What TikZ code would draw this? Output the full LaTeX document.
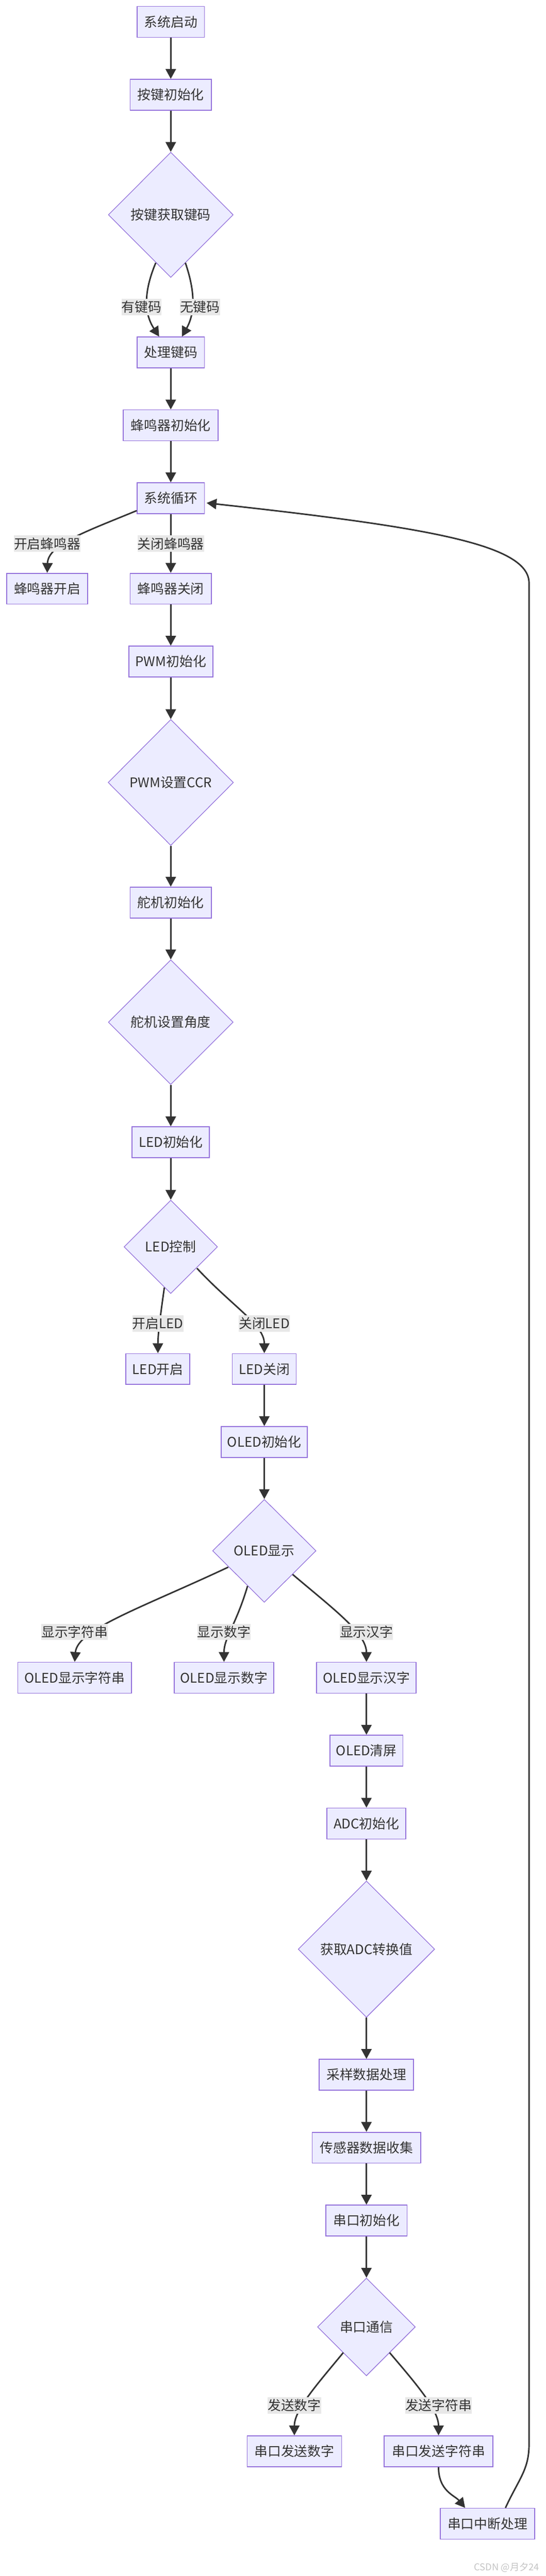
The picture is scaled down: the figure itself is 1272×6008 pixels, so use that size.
\documentclass[tikz,border=0pt]{standalone}
\usepackage{fontspec}
\newfontfamily\cjk{Noto Sans CJK SC}
\usetikzlibrary{shapes.geometric,arrows.meta,calc}
\definecolor{bfill}{HTML}{ECECFF}
\definecolor{bstroke}{HTML}{9370DB}
\definecolor{ink}{HTML}{333333}
\definecolor{lblbg}{HTML}{E8E8E8}
\definecolor{wmgray}{HTML}{C4C4C4}
\begin{document}
\begin{tikzpicture}[x=1pt,y=-1pt,
  txt/.style={text=ink, font=\cjk\fontsize{31}{37}\selectfont},
  box/.style={txt, draw=bstroke, fill=bfill, line width=2pt, inner sep=0pt, minimum height=72pt},
  dia/.style={txt, diamond, aspect=1, draw=bstroke, fill=bfill, line width=1.5pt, inner sep=0pt},
  lbl/.style={txt, fill=lblbg, inner xsep=0pt, inner ysep=0pt, minimum height=38pt},
  arr/.style={draw=ink, line width=3.5pt, -{Triangle[length=23pt,width=24pt]}},
]
\fill[white] (0,0) rectangle (1272,6008);
\useasboundingbox (0,0) rectangle (1272,6008);

% nodes
\node[box, minimum width=157pt] (start) at (398,51) {系统启动};
\node[box, minimum width=189pt] (keyinit) at (398,221) {按键初始化};
\node[dia, minimum width=291pt, minimum height=292pt] (keyget) at (398,501) {按键获取键码};
\node[box, minimum width=157pt] (keyproc) at (398,822) {处理键码};
\node[box, minimum width=221pt] (buzinit) at (398,992) {蜂鸣器初始化};
\node[box, minimum width=157pt] (loop) at (398,1162) {系统循环};
\node[box, minimum width=188pt] (buzon) at (110,1373) {蜂鸣器开启};
\node[box, minimum width=189pt] (buzoff) at (398,1373) {蜂鸣器关闭};
\node[box, minimum width=196pt] (pwminit) at (398,1543) {PWM初始化};
\node[dia, minimum width=292pt, minimum height=294pt] (pwmccr) at (398,1825) {PWM设置CCR};
\node[box, minimum width=189pt] (servoinit) at (398,2105) {舵机初始化};
\node[dia, minimum width=291pt, minimum height=291pt] (servoang) at (398,2384) {舵机设置角度};
\node[box, minimum width=180pt] (ledinit) at (398,2664) {LED初始化};
\node[dia, minimum width=218pt, minimum height=218pt] (ledctl) at (398,2908) {LED控制};
\node[box, minimum width=149pt] (ledon) at (368,3193) {LED开启};
\node[box, minimum width=149pt] (ledoff) at (616,3193) {LED关闭};
\node[box, minimum width=201pt] (oledinit) at (616,3363) {OLED初始化};
\node[dia, minimum width=241pt, minimum height=240pt] (oledshow) at (616,3617) {OLED显示};
\node[box, minimum width=265pt] (oledstr) at (174,3913) {OLED显示字符串};
\node[box, minimum width=232pt] (olednum) at (522,3913) {OLED显示数字};
\node[box, minimum width=232pt] (oledcn) at (854,3913) {OLED显示汉字};
\node[box, minimum width=170pt] (oledclr) at (854,4083) {OLED清屏};
\node[box, minimum width=184pt] (adcinit) at (854,4253) {ADC初始化};
\node[dia, minimum width=318pt, minimum height=318pt] (adcget) at (854,4546) {获取ADC转换值};
\node[box, minimum width=220pt] (sample) at (854,4839) {采样数据处理};
\node[box, minimum width=253pt] (sensor) at (854,5009) {传感器数据收集};
\node[box, minimum width=189pt] (uartinit) at (854,5179) {串口初始化};
\node[dia, minimum width=228pt, minimum height=228pt] (uartcomm) at (854,5427) {串口通信};
\node[box, minimum width=220pt] (uartnum) at (686,5717) {串口发送数字};
\node[box, minimum width=253pt] (uartstr) at (1022,5717) {串口发送字符串};
\node[box, minimum width=220pt] (uartirq) at (1136,5886) {串口中断处理};

% straight edges
\draw[arr] (start) -- (keyinit);
\draw[arr] (keyinit) -- (keyget);
\draw[arr] (keyproc) -- (buzinit);
\draw[arr] (buzinit) -- (loop);
\draw[arr] (loop) -- (buzoff);
\draw[arr] (buzoff) -- (pwminit);
\draw[arr] (pwminit) -- (pwmccr);
\draw[arr] (pwmccr) -- (servoinit);
\draw[arr] (servoinit) -- (servoang);
\draw[arr] (servoang) -- (ledinit);
\draw[arr] (ledinit) -- (ledctl);
\draw[arr] (ledoff) -- (oledinit);
\draw[arr] (oledinit) -- (oledshow);
\draw[arr] (oledcn) -- (oledclr);
\draw[arr] (oledclr) -- (adcinit);
\draw[arr] (adcinit) -- (adcget);
\draw[arr] (adcget) -- (sample);
\draw[arr] (sample) -- (sensor);
\draw[arr] (sensor) -- (uartinit);
\draw[arr] (uartinit) -- (uartcomm);

% curved edges
\draw[arr] ($(keyget.center)+(-35,112)$) .. controls (335,680) and (335,730) .. ($(keyproc.north)+(-27,0)$);
\draw[arr] ($(keyget.center)+(34,112)$) .. controls (455,680) and (455,730) .. ($(keyproc.north)+(26,0)$);
\draw[arr] ($(loop.west)+(0,29)$) .. controls (200,1240) and (112,1270) .. (buzon.north);
\draw[arr] ($(ledctl.center)+(-15,95)$) .. controls (375,3060) and (368,3110) .. (ledon.north);
\draw[arr] ($(ledctl.center)+(61,50)$) .. controls (545,3050) and (616,3090) .. (ledoff.north);
\draw[arr] ($(oledshow.center)+(-84,38)$) .. controls (330,3750) and (180,3800) .. (oledstr.north);
\draw[arr] ($(oledshow.center)+(-39,82)$) .. controls (550,3790) and (522,3820) .. (olednum.north);
\draw[arr] ($(oledshow.center)+(66,55)$) .. controls (780,3755) and (854,3810) .. (oledcn.north);
\draw[arr] ($(uartcomm.center)+(-54,60)$) .. controls (740,5560) and (686,5620) .. (uartnum.north);
\draw[arr] ($(uartcomm.center)+(54,60)$) .. controls (970,5560) and (1022,5620) .. (uartstr.north);
\draw[arr] (uartstr.south) .. controls (1022,5810) and (1060,5820) .. ($(uartirq.north)+(-52,0)$);
\draw[arr] ($(uartirq.north)+(42,0)$) .. controls (1210,5780) and (1233,5760) .. (1233,5700)
   -- (1233,1360) .. controls (1233,1270) and (1000,1230) .. ($(loop.east)+(4,11)$);

% edge labels
\node[lbl] (lyes) at (330,716) {有键码};
\node[lbl] (lno) at (466,716) {无键码};
\node[lbl] (lbon) at (110,1268) {开启蜂鸣器};
\node[lbl] (lboff) at (398,1268) {关闭蜂鸣器};
\node[lbl] (llon) at (368,3087) {开启LED};
\node[lbl] (lloff) at (616,3087) {关闭LED};
\node[lbl] (lstr) at (174,3806) {显示字符串};
\node[lbl] (lnum) at (522,3806) {显示数字};
\node[lbl] (lcn) at (854,3806) {显示汉字};
\node[lbl] (lsn) at (686,5610) {发送数字};
\node[lbl] (lss) at (1022,5610) {发送字符串};

% watermark
\node[anchor=west, inner sep=0pt, text=wmgray, font=\cjk\fontsize{22}{26}\selectfont] (wm) at (1105,5988) {CSDN @月夕24};
\end{tikzpicture}
\end{document}
